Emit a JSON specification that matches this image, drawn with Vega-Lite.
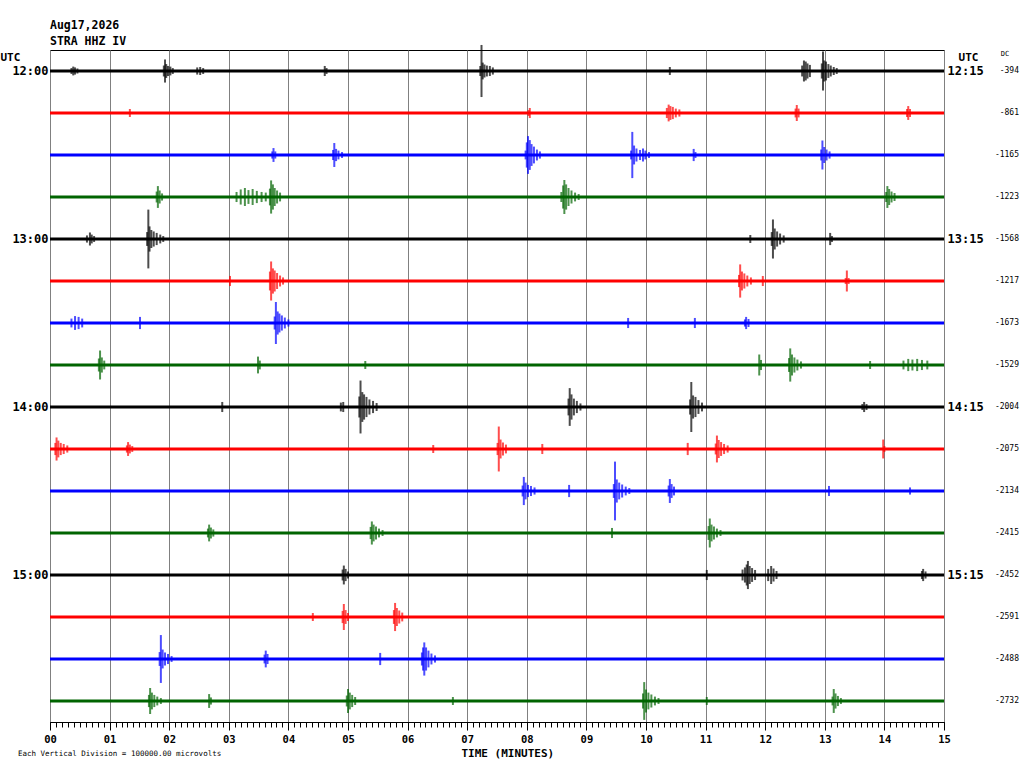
{
  "$schema": "https://vega.github.io/schema/vega-lite/v6.json",
  "width": 894,
  "height": 672,
  "autosize": {"type": "none"},
  "padding": {"left": 50, "top": 50, "right": 80, "bottom": 46},
  "background": "white",
  "title": {
    "text": ["Aug17,2026", "STRA HHZ IV"],
    "anchor": "start",
    "frame": "group",
    "font": "DejaVu Sans Mono",
    "fontSize": 11.5,
    "fontWeight": "bold",
    "lineHeight": 16,
    "offset": -3,
    "color": "black"
  },
  "config": {
    "font": "DejaVu Sans Mono",
    "view": {"stroke": "black", "strokeWidth": 1}
  },
  "datasets": {
    "traces": [
      {"row": "12:00", "dc": "-394"},
      {"row": "12:15", "dc": "-861"},
      {"row": "12:30", "dc": "-1165"},
      {"row": "12:45", "dc": "-1223"},
      {"row": "13:00", "dc": "-1568"},
      {"row": "13:15", "dc": "-1217"},
      {"row": "13:30", "dc": "-1673"},
      {"row": "13:45", "dc": "-1529"},
      {"row": "14:00", "dc": "-2004"},
      {"row": "14:15", "dc": "-2075"},
      {"row": "14:30", "dc": "-2134"},
      {"row": "14:45", "dc": "-2415"},
      {"row": "15:00", "dc": "-2452"},
      {"row": "15:15", "dc": "-2591"},
      {"row": "15:30", "dc": "-2488"},
      {"row": "15:45", "dc": "-2732"}
    ],
    "events": [
      {"row": "12:00", "t": 0.36, "amp": 0.14}, {"row": "12:00", "t": 0.39, "amp": 0.21}, {"row": "12:00", "t": 0.42, "amp": 0.17}, {"row": "12:00", "t": 0.46, "amp": 0.12},
      {"row": "12:00", "t": 1.91, "amp": 0.26}, {"row": "12:00", "t": 1.93, "amp": 0.55}, {"row": "12:00", "t": 1.95, "amp": 0.33}, {"row": "12:00", "t": 1.98, "amp": 0.24}, {"row": "12:00", "t": 2.02, "amp": 0.21}, {"row": "12:00", "t": 2.06, "amp": 0.14},
      {"row": "12:00", "t": 2.47, "amp": 0.17}, {"row": "12:00", "t": 2.52, "amp": 0.19}, {"row": "12:00", "t": 2.57, "amp": 0.14},
      {"row": "12:00", "t": 4.61, "amp": 0.24}, {"row": "12:00", "t": 4.64, "amp": 0.14},
      {"row": "12:00", "t": 7.22, "amp": 0.24}, {"row": "12:00", "t": 7.24, "amp": 1.24}, {"row": "12:00", "t": 7.26, "amp": 0.4}, {"row": "12:00", "t": 7.29, "amp": 0.31}, {"row": "12:00", "t": 7.33, "amp": 0.26}, {"row": "12:00", "t": 7.38, "amp": 0.24}, {"row": "12:00", "t": 7.43, "amp": 0.17},
      {"row": "12:00", "t": 10.4, "amp": 0.19},
      {"row": "12:00", "t": 12.62, "amp": 0.26}, {"row": "12:00", "t": 12.65, "amp": 0.5}, {"row": "12:00", "t": 12.68, "amp": 0.45}, {"row": "12:00", "t": 12.71, "amp": 0.36}, {"row": "12:00", "t": 12.75, "amp": 0.29},
      {"row": "12:00", "t": 12.95, "amp": 0.36}, {"row": "12:00", "t": 12.97, "amp": 0.93}, {"row": "12:00", "t": 12.99, "amp": 0.5}, {"row": "12:00", "t": 13.02, "amp": 0.45}, {"row": "12:00", "t": 13.06, "amp": 0.33}, {"row": "12:00", "t": 13.1, "amp": 0.26}, {"row": "12:00", "t": 13.15, "amp": 0.19}, {"row": "12:00", "t": 13.2, "amp": 0.14},

      {"row": "12:15", "t": 1.34, "amp": 0.19},
      {"row": "12:15", "t": 8.03, "amp": 0.14}, {"row": "12:15", "t": 8.05, "amp": 0.24},
      {"row": "12:15", "t": 10.35, "amp": 0.24}, {"row": "12:15", "t": 10.38, "amp": 0.4}, {"row": "12:15", "t": 10.41, "amp": 0.33}, {"row": "12:15", "t": 10.45, "amp": 0.29}, {"row": "12:15", "t": 10.5, "amp": 0.21}, {"row": "12:15", "t": 10.56, "amp": 0.17},
      {"row": "12:15", "t": 12.51, "amp": 0.21}, {"row": "12:15", "t": 12.53, "amp": 0.38}, {"row": "12:15", "t": 12.56, "amp": 0.21},
      {"row": "12:15", "t": 14.38, "amp": 0.19}, {"row": "12:15", "t": 14.4, "amp": 0.33}, {"row": "12:15", "t": 14.43, "amp": 0.19},

      {"row": "12:30", "t": 3.73, "amp": 0.17}, {"row": "12:30", "t": 3.75, "amp": 0.33}, {"row": "12:30", "t": 3.78, "amp": 0.17},
      {"row": "12:30", "t": 4.75, "amp": 0.24}, {"row": "12:30", "t": 4.77, "amp": 0.57}, {"row": "12:30", "t": 4.8, "amp": 0.29}, {"row": "12:30", "t": 4.84, "amp": 0.21}, {"row": "12:30", "t": 4.9, "amp": 0.14},
      {"row": "12:30", "t": 7.98, "amp": 0.21}, {"row": "12:30", "t": 8.0, "amp": 0.6}, {"row": "12:30", "t": 8.02, "amp": 0.9}, {"row": "12:30", "t": 8.05, "amp": 0.71}, {"row": "12:30", "t": 8.08, "amp": 0.52}, {"row": "12:30", "t": 8.12, "amp": 0.4}, {"row": "12:30", "t": 8.17, "amp": 0.26}, {"row": "12:30", "t": 8.22, "amp": 0.17},
      {"row": "12:30", "t": 9.75, "amp": 0.21}, {"row": "12:30", "t": 9.77, "amp": 1.1}, {"row": "12:30", "t": 9.8, "amp": 0.45}, {"row": "12:30", "t": 9.84, "amp": 0.31}, {"row": "12:30", "t": 9.9, "amp": 0.24}, {"row": "12:30", "t": 9.95, "amp": 0.31}, {"row": "12:30", "t": 9.99, "amp": 0.21}, {"row": "12:30", "t": 10.05, "amp": 0.14},
      {"row": "12:30", "t": 10.8, "amp": 0.29}, {"row": "12:30", "t": 10.83, "amp": 0.14},
      {"row": "12:30", "t": 12.94, "amp": 0.26}, {"row": "12:30", "t": 12.96, "amp": 0.69}, {"row": "12:30", "t": 12.99, "amp": 0.38}, {"row": "12:30", "t": 13.03, "amp": 0.26}, {"row": "12:30", "t": 13.08, "amp": 0.17},

      {"row": "12:45", "t": 1.79, "amp": 0.26}, {"row": "12:45", "t": 1.81, "amp": 0.52}, {"row": "12:45", "t": 1.84, "amp": 0.31}, {"row": "12:45", "t": 1.88, "amp": 0.17},
      {"row": "12:45", "t": 3.13, "amp": 0.24}, {"row": "12:45", "t": 3.2, "amp": 0.36}, {"row": "12:45", "t": 3.27, "amp": 0.43}, {"row": "12:45", "t": 3.33, "amp": 0.33}, {"row": "12:45", "t": 3.4, "amp": 0.38}, {"row": "12:45", "t": 3.47, "amp": 0.29}, {"row": "12:45", "t": 3.55, "amp": 0.24}, {"row": "12:45", "t": 3.62, "amp": 0.21},
      {"row": "12:45", "t": 3.69, "amp": 0.4}, {"row": "12:45", "t": 3.71, "amp": 0.79}, {"row": "12:45", "t": 3.74, "amp": 0.6}, {"row": "12:45", "t": 3.77, "amp": 0.43}, {"row": "12:45", "t": 3.81, "amp": 0.31}, {"row": "12:45", "t": 3.86, "amp": 0.21},
      {"row": "12:45", "t": 8.58, "amp": 0.24}, {"row": "12:45", "t": 8.61, "amp": 0.55}, {"row": "12:45", "t": 8.63, "amp": 0.81}, {"row": "12:45", "t": 8.66, "amp": 0.6}, {"row": "12:45", "t": 8.7, "amp": 0.43}, {"row": "12:45", "t": 8.75, "amp": 0.31}, {"row": "12:45", "t": 8.81, "amp": 0.21}, {"row": "12:45", "t": 8.87, "amp": 0.14},
      {"row": "12:45", "t": 14.03, "amp": 0.24}, {"row": "12:45", "t": 14.05, "amp": 0.52}, {"row": "12:45", "t": 14.08, "amp": 0.38}, {"row": "12:45", "t": 14.12, "amp": 0.26}, {"row": "12:45", "t": 14.17, "amp": 0.19},

      {"row": "13:00", "t": 0.62, "amp": 0.17}, {"row": "13:00", "t": 0.67, "amp": 0.31}, {"row": "13:00", "t": 0.7, "amp": 0.21}, {"row": "13:00", "t": 0.74, "amp": 0.14},
      {"row": "13:00", "t": 1.63, "amp": 0.33}, {"row": "13:00", "t": 1.65, "amp": 1.4}, {"row": "13:00", "t": 1.67, "amp": 0.6}, {"row": "13:00", "t": 1.7, "amp": 0.43}, {"row": "13:00", "t": 1.74, "amp": 0.36}, {"row": "13:00", "t": 1.79, "amp": 0.29}, {"row": "13:00", "t": 1.85, "amp": 0.21}, {"row": "13:00", "t": 1.9, "amp": 0.14},
      {"row": "13:00", "t": 11.75, "amp": 0.19},
      {"row": "13:00", "t": 12.11, "amp": 0.33}, {"row": "13:00", "t": 12.13, "amp": 0.93}, {"row": "13:00", "t": 12.16, "amp": 0.5}, {"row": "13:00", "t": 12.2, "amp": 0.36}, {"row": "13:00", "t": 12.25, "amp": 0.26}, {"row": "13:00", "t": 12.31, "amp": 0.17},
      {"row": "13:00", "t": 13.09, "amp": 0.29}, {"row": "13:00", "t": 13.12, "amp": 0.14},

      {"row": "13:15", "t": 3.02, "amp": 0.24},
      {"row": "13:15", "t": 3.69, "amp": 0.45}, {"row": "13:15", "t": 3.71, "amp": 0.93}, {"row": "13:15", "t": 3.74, "amp": 0.6}, {"row": "13:15", "t": 3.77, "amp": 0.5}, {"row": "13:15", "t": 3.81, "amp": 0.38}, {"row": "13:15", "t": 3.86, "amp": 0.26}, {"row": "13:15", "t": 3.91, "amp": 0.17},
      {"row": "13:15", "t": 11.56, "amp": 0.29}, {"row": "13:15", "t": 11.58, "amp": 0.79}, {"row": "13:15", "t": 11.61, "amp": 0.45}, {"row": "13:15", "t": 11.65, "amp": 0.36}, {"row": "13:15", "t": 11.7, "amp": 0.26}, {"row": "13:15", "t": 11.76, "amp": 0.17},
      {"row": "13:15", "t": 11.96, "amp": 0.24},
      {"row": "13:15", "t": 13.35, "amp": 0.14}, {"row": "13:15", "t": 13.37, "amp": 0.5}, {"row": "13:15", "t": 13.4, "amp": 0.14},

      {"row": "13:30", "t": 0.36, "amp": 0.21}, {"row": "13:30", "t": 0.42, "amp": 0.33}, {"row": "13:30", "t": 0.48, "amp": 0.29}, {"row": "13:30", "t": 0.54, "amp": 0.21},
      {"row": "13:30", "t": 1.51, "amp": 0.29},
      {"row": "13:30", "t": 3.77, "amp": 0.31}, {"row": "13:30", "t": 3.79, "amp": 1.0}, {"row": "13:30", "t": 3.82, "amp": 0.55}, {"row": "13:30", "t": 3.85, "amp": 0.45}, {"row": "13:30", "t": 3.89, "amp": 0.36}, {"row": "13:30", "t": 3.94, "amp": 0.26}, {"row": "13:30", "t": 4.0, "amp": 0.17},
      {"row": "13:30", "t": 9.7, "amp": 0.24},
      {"row": "13:30", "t": 10.82, "amp": 0.24},
      {"row": "13:30", "t": 11.66, "amp": 0.17}, {"row": "13:30", "t": 11.68, "amp": 0.29}, {"row": "13:30", "t": 11.72, "amp": 0.19},

      {"row": "13:45", "t": 0.82, "amp": 0.31}, {"row": "13:45", "t": 0.84, "amp": 0.69}, {"row": "13:45", "t": 0.87, "amp": 0.36}, {"row": "13:45", "t": 0.91, "amp": 0.21},
      {"row": "13:45", "t": 3.49, "amp": 0.4}, {"row": "13:45", "t": 3.52, "amp": 0.21},
      {"row": "13:45", "t": 5.29, "amp": 0.19},
      {"row": "13:45", "t": 11.9, "amp": 0.5}, {"row": "13:45", "t": 11.93, "amp": 0.24},
      {"row": "13:45", "t": 12.4, "amp": 0.33}, {"row": "13:45", "t": 12.42, "amp": 0.79}, {"row": "13:45", "t": 12.45, "amp": 0.5}, {"row": "13:45", "t": 12.49, "amp": 0.36}, {"row": "13:45", "t": 12.54, "amp": 0.26}, {"row": "13:45", "t": 12.6, "amp": 0.17},
      {"row": "13:45", "t": 13.76, "amp": 0.19},
      {"row": "13:45", "t": 14.32, "amp": 0.21}, {"row": "13:45", "t": 14.4, "amp": 0.29}, {"row": "13:45", "t": 14.47, "amp": 0.26}, {"row": "13:45", "t": 14.55, "amp": 0.29}, {"row": "13:45", "t": 14.63, "amp": 0.24}, {"row": "13:45", "t": 14.72, "amp": 0.21},

      {"row": "14:00", "t": 2.89, "amp": 0.24},
      {"row": "14:00", "t": 4.88, "amp": 0.21}, {"row": "14:00", "t": 4.92, "amp": 0.24},
      {"row": "14:00", "t": 5.19, "amp": 0.5}, {"row": "14:00", "t": 5.21, "amp": 1.26}, {"row": "14:00", "t": 5.24, "amp": 0.71}, {"row": "14:00", "t": 5.27, "amp": 0.6}, {"row": "14:00", "t": 5.31, "amp": 0.48}, {"row": "14:00", "t": 5.36, "amp": 0.36}, {"row": "14:00", "t": 5.42, "amp": 0.29}, {"row": "14:00", "t": 5.48, "amp": 0.19},
      {"row": "14:00", "t": 8.7, "amp": 0.4}, {"row": "14:00", "t": 8.72, "amp": 0.9}, {"row": "14:00", "t": 8.75, "amp": 0.6}, {"row": "14:00", "t": 8.79, "amp": 0.4}, {"row": "14:00", "t": 8.84, "amp": 0.29}, {"row": "14:00", "t": 8.9, "amp": 0.17},
      {"row": "14:00", "t": 10.74, "amp": 0.36}, {"row": "14:00", "t": 10.76, "amp": 1.19}, {"row": "14:00", "t": 10.79, "amp": 0.55}, {"row": "14:00", "t": 10.83, "amp": 0.48}, {"row": "14:00", "t": 10.88, "amp": 0.33}, {"row": "14:00", "t": 10.94, "amp": 0.21},
      {"row": "14:00", "t": 13.63, "amp": 0.14}, {"row": "14:00", "t": 13.66, "amp": 0.24}, {"row": "14:00", "t": 13.7, "amp": 0.14},

      {"row": "14:15", "t": 0.09, "amp": 0.29}, {"row": "14:15", "t": 0.11, "amp": 0.55}, {"row": "14:15", "t": 0.14, "amp": 0.4}, {"row": "14:15", "t": 0.18, "amp": 0.29}, {"row": "14:15", "t": 0.23, "amp": 0.24}, {"row": "14:15", "t": 0.29, "amp": 0.17},
      {"row": "14:15", "t": 1.29, "amp": 0.17}, {"row": "14:15", "t": 1.31, "amp": 0.33}, {"row": "14:15", "t": 1.34, "amp": 0.21}, {"row": "14:15", "t": 1.38, "amp": 0.14},
      {"row": "14:15", "t": 6.43, "amp": 0.19},
      {"row": "14:15", "t": 7.51, "amp": 0.29}, {"row": "14:15", "t": 7.53, "amp": 1.07}, {"row": "14:15", "t": 7.56, "amp": 0.45}, {"row": "14:15", "t": 7.6, "amp": 0.31}, {"row": "14:15", "t": 7.65, "amp": 0.21},
      {"row": "14:15", "t": 8.26, "amp": 0.24},
      {"row": "14:15", "t": 10.7, "amp": 0.29},
      {"row": "14:15", "t": 11.17, "amp": 0.26}, {"row": "14:15", "t": 11.19, "amp": 0.64}, {"row": "14:15", "t": 11.22, "amp": 0.43}, {"row": "14:15", "t": 11.26, "amp": 0.33}, {"row": "14:15", "t": 11.31, "amp": 0.24}, {"row": "14:15", "t": 11.37, "amp": 0.17},
      {"row": "14:15", "t": 13.98, "amp": 0.45}, {"row": "14:15", "t": 14.0, "amp": 0.14},

      {"row": "14:30", "t": 7.93, "amp": 0.26}, {"row": "14:30", "t": 7.95, "amp": 0.67}, {"row": "14:30", "t": 7.98, "amp": 0.4}, {"row": "14:30", "t": 8.02, "amp": 0.29}, {"row": "14:30", "t": 8.07, "amp": 0.24}, {"row": "14:30", "t": 8.13, "amp": 0.17},
      {"row": "14:30", "t": 8.71, "amp": 0.29},
      {"row": "14:30", "t": 9.46, "amp": 0.33}, {"row": "14:30", "t": 9.48, "amp": 1.4}, {"row": "14:30", "t": 9.51, "amp": 0.55}, {"row": "14:30", "t": 9.55, "amp": 0.4}, {"row": "14:30", "t": 9.6, "amp": 0.31}, {"row": "14:30", "t": 9.66, "amp": 0.21}, {"row": "14:30", "t": 9.72, "amp": 0.14},
      {"row": "14:30", "t": 10.38, "amp": 0.26}, {"row": "14:30", "t": 10.4, "amp": 0.57}, {"row": "14:30", "t": 10.43, "amp": 0.33}, {"row": "14:30", "t": 10.47, "amp": 0.21},
      {"row": "14:30", "t": 13.07, "amp": 0.24},
      {"row": "14:30", "t": 14.43, "amp": 0.17},

      {"row": "14:45", "t": 2.65, "amp": 0.21}, {"row": "14:45", "t": 2.67, "amp": 0.4}, {"row": "14:45", "t": 2.7, "amp": 0.26}, {"row": "14:45", "t": 2.74, "amp": 0.17},
      {"row": "14:45", "t": 5.38, "amp": 0.29}, {"row": "14:45", "t": 5.4, "amp": 0.55}, {"row": "14:45", "t": 5.43, "amp": 0.4}, {"row": "14:45", "t": 5.47, "amp": 0.31}, {"row": "14:45", "t": 5.52, "amp": 0.21}, {"row": "14:45", "t": 5.58, "amp": 0.14},
      {"row": "14:45", "t": 9.43, "amp": 0.24},
      {"row": "14:45", "t": 11.05, "amp": 0.33}, {"row": "14:45", "t": 11.07, "amp": 0.69}, {"row": "14:45", "t": 11.1, "amp": 0.4}, {"row": "14:45", "t": 11.14, "amp": 0.31}, {"row": "14:45", "t": 11.19, "amp": 0.21}, {"row": "14:45", "t": 11.25, "amp": 0.14},

      {"row": "15:00", "t": 4.91, "amp": 0.26}, {"row": "15:00", "t": 4.93, "amp": 0.45}, {"row": "15:00", "t": 4.96, "amp": 0.29}, {"row": "15:00", "t": 5.0, "amp": 0.17},
      {"row": "15:00", "t": 11.02, "amp": 0.24},
      {"row": "15:00", "t": 11.62, "amp": 0.26}, {"row": "15:00", "t": 11.66, "amp": 0.36}, {"row": "15:00", "t": 11.69, "amp": 0.5}, {"row": "15:00", "t": 11.71, "amp": 0.67}, {"row": "15:00", "t": 11.74, "amp": 0.43}, {"row": "15:00", "t": 11.78, "amp": 0.33}, {"row": "15:00", "t": 11.83, "amp": 0.24},
      {"row": "15:00", "t": 12.05, "amp": 0.29}, {"row": "15:00", "t": 12.1, "amp": 0.43}, {"row": "15:00", "t": 12.14, "amp": 0.31}, {"row": "15:00", "t": 12.19, "amp": 0.19},
      {"row": "15:00", "t": 14.63, "amp": 0.19}, {"row": "15:00", "t": 14.65, "amp": 0.29}, {"row": "15:00", "t": 14.69, "amp": 0.17},

      {"row": "15:15", "t": 4.41, "amp": 0.19},
      {"row": "15:15", "t": 4.91, "amp": 0.29}, {"row": "15:15", "t": 4.93, "amp": 0.62}, {"row": "15:15", "t": 4.96, "amp": 0.33}, {"row": "15:15", "t": 5.0, "amp": 0.19},
      {"row": "15:15", "t": 5.77, "amp": 0.33}, {"row": "15:15", "t": 5.79, "amp": 0.67}, {"row": "15:15", "t": 5.82, "amp": 0.43}, {"row": "15:15", "t": 5.86, "amp": 0.31}, {"row": "15:15", "t": 5.91, "amp": 0.21},

      {"row": "15:30", "t": 1.84, "amp": 0.33}, {"row": "15:30", "t": 1.86, "amp": 1.14}, {"row": "15:30", "t": 1.89, "amp": 0.45}, {"row": "15:30", "t": 1.93, "amp": 0.31}, {"row": "15:30", "t": 1.98, "amp": 0.24}, {"row": "15:30", "t": 2.04, "amp": 0.14},
      {"row": "15:30", "t": 3.6, "amp": 0.21}, {"row": "15:30", "t": 3.62, "amp": 0.4}, {"row": "15:30", "t": 3.65, "amp": 0.24},
      {"row": "15:30", "t": 5.54, "amp": 0.29},
      {"row": "15:30", "t": 6.24, "amp": 0.31}, {"row": "15:30", "t": 6.26, "amp": 0.55}, {"row": "15:30", "t": 6.28, "amp": 0.79}, {"row": "15:30", "t": 6.31, "amp": 0.55}, {"row": "15:30", "t": 6.35, "amp": 0.4}, {"row": "15:30", "t": 6.4, "amp": 0.26}, {"row": "15:30", "t": 6.46, "amp": 0.17},

      {"row": "15:45", "t": 1.66, "amp": 0.29}, {"row": "15:45", "t": 1.68, "amp": 0.62}, {"row": "15:45", "t": 1.71, "amp": 0.4}, {"row": "15:45", "t": 1.75, "amp": 0.29}, {"row": "15:45", "t": 1.8, "amp": 0.21}, {"row": "15:45", "t": 1.86, "amp": 0.14},
      {"row": "15:45", "t": 2.67, "amp": 0.33}, {"row": "15:45", "t": 2.7, "amp": 0.17},
      {"row": "15:45", "t": 4.98, "amp": 0.26}, {"row": "15:45", "t": 5.0, "amp": 0.57}, {"row": "15:45", "t": 5.03, "amp": 0.4}, {"row": "15:45", "t": 5.07, "amp": 0.29}, {"row": "15:45", "t": 5.12, "amp": 0.19},
      {"row": "15:45", "t": 6.76, "amp": 0.19},
      {"row": "15:45", "t": 9.95, "amp": 0.36}, {"row": "15:45", "t": 9.97, "amp": 0.9}, {"row": "15:45", "t": 10.0, "amp": 0.55}, {"row": "15:45", "t": 10.04, "amp": 0.4}, {"row": "15:45", "t": 10.09, "amp": 0.31}, {"row": "15:45", "t": 10.15, "amp": 0.21}, {"row": "15:45", "t": 10.21, "amp": 0.14},
      {"row": "15:45", "t": 11.02, "amp": 0.19},
      {"row": "15:45", "t": 13.13, "amp": 0.21}, {"row": "15:45", "t": 13.15, "amp": 0.57}, {"row": "15:45", "t": 13.18, "amp": 0.36}, {"row": "15:45", "t": 13.22, "amp": 0.24}, {"row": "15:45", "t": 13.27, "amp": 0.14}
    ]
  },
  "layer": [
    {
      "data": {"name": "traces"},
      "mark": {"type": "rule", "strokeWidth": 3},
      "encoding": {
        "x": {
          "datum": 0,
          "type": "quantitative",
          "axis": {
            "orient": "bottom",
            "tickCount": 150,
            "grid": false,
            "domain": false,
            "labels": false,
            "tickSize": 5,
            "tickColor": "black",
            "title": null
          }
        },
        "x2": {"datum": 15},
        "y": {"field": "row", "type": "ordinal", "axis": null},
        "color": {"field": "row", "type": "ordinal"}
      }
    },
    {
      "data": {"name": "events"},
      "mark": {"type": "tick", "thickness": 2},
      "encoding": {
        "x": {
          "field": "t",
          "type": "quantitative",
          "scale": {"domain": [0, 15], "nice": false, "zero": false},
          "axis": {
            "orient": "bottom",
            "values": [0, 1, 2, 3, 4, 5, 6, 7, 8, 9, 10, 11, 12, 13, 14, 15],
            "grid": true,
            "gridColor": "#808080",
            "gridWidth": 1,
            "gridOpacity": 1,
            "tickSize": 8,
            "tickColor": "black",
            "domainColor": "black",
            "labelExpr": "datum.value < 10 ? '0' + datum.value : '' + datum.value",
            "labelOverlap": false,
            "labelFlush": false,
            "labelFont": "DejaVu Sans Mono",
            "labelFontSize": 10.5,
            "labelFontWeight": "bold",
            "labelColor": "black",
            "labelPadding": 4,
            "title": "TIME (MINUTES)",
            "titleFont": "DejaVu Sans Mono",
            "titleFontSize": 11,
            "titleFontWeight": "bold",
            "titleColor": "black",
            "titlePadding": 3,
            "titleX": 411,
            "titleAlign": "left"
          }
        },
        "y": {
          "field": "row",
          "type": "ordinal",
          "scale": {
            "type": "band",
            "domain": ["12:00", "12:15", "12:30", "12:45", "13:00", "13:15", "13:30", "13:45", "14:00", "14:15", "14:30", "14:45", "15:00", "15:15", "15:30", "15:45"],
            "paddingInner": 0,
            "paddingOuter": 0
          },
          "axis": {
            "orient": "left",
            "domain": false,
            "ticks": false,
            "labelExpr": "indexof(datum.label, ':00') > 0 ? datum.label : ''",
            "labelOverlap": false,
            "labelPadding": 2,
            "labelFont": "DejaVu Sans Mono",
            "labelFontSize": 12,
            "labelFontWeight": "bold",
            "labelColor": "black",
            "labelBaseline": "middle",
            "title": "UTC",
            "titleAngle": 0,
            "titleX": -50,
            "titleY": 7,
            "titleAlign": "left",
            "titleBaseline": "middle",
            "titleFont": "DejaVu Sans Mono",
            "titleFontSize": 11,
            "titleFontWeight": "bold",
            "titleColor": "black"
          }
        },
        "color": {
          "field": "row",
          "type": "ordinal",
          "scale": {
            "domain": ["12:00", "12:15", "12:30", "12:45", "13:00", "13:15", "13:30", "13:45", "14:00", "14:15", "14:30", "14:45", "15:00", "15:15", "15:30", "15:45"],
            "range": ["#000000", "#ff0000", "#0000ff", "#006400", "#000000", "#ff0000", "#0000ff", "#006400", "#000000", "#ff0000", "#0000ff", "#006400", "#000000", "#ff0000", "#0000ff", "#006400"]
          },
          "legend": null
        },
        "size": {"field": "amp", "type": "quantitative", "scale": {"domain": [0, 1], "range": [0, 42]}, "legend": null}
      }
    },
    {
      "data": {"name": "traces"},
      "mark": {"type": "text", "align": "right", "baseline": "middle", "dx": 75, "fontSize": 8, "font": "DejaVu Sans Mono"},
      "encoding": {
        "x": {"datum": 15, "type": "quantitative", "axis": null},
        "y": {
          "field": "row",
          "type": "ordinal",
          "axis": {
            "orient": "right",
            "domain": false,
            "ticks": false,
            "labelExpr": "indexof(datum.label, ':00') > 0 ? replace(datum.label, ':00', ':15') : ''",
            "labelOverlap": false,
            "labelPadding": 3,
            "labelFont": "DejaVu Sans Mono",
            "labelFontSize": 12,
            "labelFontWeight": "bold",
            "labelColor": "black",
            "labelBaseline": "middle",
            "title": "UTC",
            "titleAngle": 0,
            "titleX": 24,
            "titleY": 7,
            "titleAlign": "center",
            "titleBaseline": "middle",
            "titleFont": "DejaVu Sans Mono",
            "titleFontSize": 11,
            "titleFontWeight": "bold",
            "titleColor": "black"
          }
        },
        "text": {"field": "dc"},
        "color": {"value": "black"}
      }
    },
    {
      "data": {"values": [{"label": "DC"}]},
      "mark": {"type": "text", "align": "center", "baseline": "middle", "dx": 61, "dy": -17, "fontSize": 7, "font": "DejaVu Sans Mono"},
      "encoding": {
        "x": {"datum": 15, "type": "quantitative", "axis": null},
        "y": {"datum": "12:00", "type": "ordinal", "axis": null},
        "text": {"field": "label"},
        "color": {"value": "black"}
      }
    },
    {
      "data": {"values": [{"note": "Each Vertical Division = 100000.00 microvolts"}]},
      "mark": {"type": "text", "align": "left", "baseline": "middle", "dx": -32, "dy": 53, "fontSize": 7.5, "font": "DejaVu Sans Mono"},
      "encoding": {
        "x": {"datum": 0, "type": "quantitative", "axis": null},
        "y": {"datum": "15:45", "type": "ordinal", "axis": null},
        "text": {"field": "note"},
        "color": {"value": "black"}
      }
    }
  ],
  "resolve": {"axis": {"x": "independent", "y": "independent"}}
}
